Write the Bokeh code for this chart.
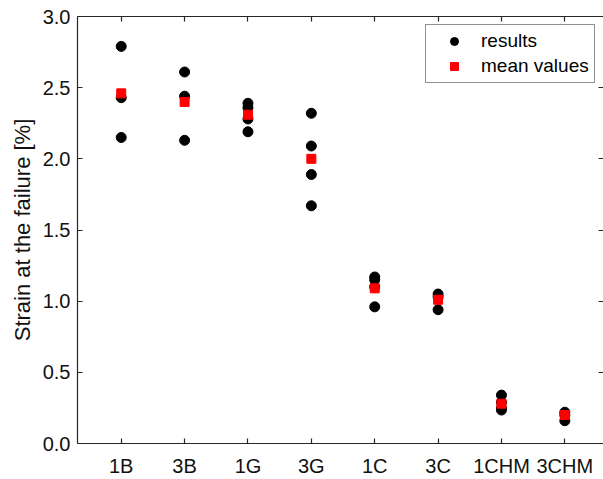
from bokeh.plotting import figure
from bokeh.models import (ColumnDataSource, FixedTicker, PrintfTickFormatter,
                          CustomJSTickFormatter, LinearAxis, Range1d, Legend,
                          LegendItem)
from bokeh.embed import file_html
from bokeh.resources import INLINE

# Specimen groups
categories = ["1B", "3B", "1G", "3G", "1C", "3C", "1CHM", "3CHM"]

# Strain at failure [%] of each tested specimen, per group
results = [
    [2.79, 2.43, 2.15],
    [2.61, 2.44, 2.13],
    [2.39, 2.36, 2.28, 2.19],
    [2.32, 2.09, 1.89, 1.67],
    [1.17, 1.15, 1.10, 0.96],
    [1.05, 1.03, 0.94],
    [0.34, 0.29, 0.25, 0.235],
    [0.22, 0.20, 0.16],
]

# Mean strain at failure [%] per group
means = [2.46, 2.40, 2.31, 2.00, 1.09, 1.01, 0.28, 0.20]

y_ticks = [0.0, 0.5, 1.0, 1.5, 2.0, 2.5, 3.0]

FONT = "Liberation Sans"
INK = "#262626"
TEXT = "#111111"

xs, ys = [], []
for i, vals in enumerate(results, start=1):
    for v in vals:
        xs.append(i)
        ys.append(v)
res_src = ColumnDataSource(dict(x=xs, y=ys))
mean_src = ColumnDataSource(dict(x=list(range(1, len(categories) + 1)), y=means))

p = figure(width=603, height=479,
           x_range=Range1d(0.31, 8.61), y_range=Range1d(0.0, 3.0),
           output_backend="svg", toolbar_location=None,
           min_border_left=77, min_border_right=0,
           min_border_top=16, min_border_bottom=34)
p.outline_line_color = None
p.xgrid.visible = False
p.ygrid.visible = False
p.background_fill_color = "white"
p.border_fill_color = "white"

r_res = p.scatter("x", "y", source=res_src, marker="circle", size=10,
                  fill_color="black", line_color="black")
r_mean = p.scatter("x", "y", source=mean_src, marker="square", size=9,
                   fill_color="#ff0000", line_color="#ff0000")

x_ticker = FixedTicker(ticks=list(range(1, len(categories) + 1)))
y_ticker = FixedTicker(ticks=y_ticks)


def style_axis(ax):
    ax.axis_line_color = INK
    ax.axis_line_width = 1.2
    ax.major_tick_line_color = INK
    ax.major_tick_line_width = 1.2
    ax.major_tick_in = 5
    ax.major_tick_out = 0
    ax.minor_tick_line_color = None
    ax.major_label_text_font = FONT
    ax.major_label_text_color = TEXT
    ax.major_label_text_font_size = "20px"


xa = p.xaxis[0]
xa.ticker = x_ticker
xa.major_label_overrides = {i + 1: c for i, c in enumerate(categories)}
style_axis(xa)
xa.major_label_standoff = 11

ya = p.yaxis[0]
ya.ticker = y_ticker
ya.formatter = PrintfTickFormatter(format="%.1f")
style_axis(ya)
ya.major_label_standoff = 7
ya.axis_label = "Strain at the failure [%]"
ya.axis_label_text_font = FONT
ya.axis_label_text_font_size = "22px"
ya.axis_label_text_font_style = "normal"
ya.axis_label_text_color = TEXT
ya.axis_label_standoff = 5

# Box edges on top and right carry inward ticks only, no labels
blank = CustomJSTickFormatter(code="return '';")

top = LinearAxis(ticker=x_ticker, formatter=blank, major_label_standoff=0)
style_axis(top)
top.major_label_text_font_size = "6px"
p.add_layout(top, "above")

right = LinearAxis(ticker=y_ticker, formatter=blank, major_label_standoff=0)
style_axis(right)
right.major_label_text_font_size = "6px"
right.axis_line_color = None
p.add_layout(right, "right")

legend = Legend(items=[LegendItem(label="results", renderers=[r_res]),
                       LegendItem(label="mean values", renderers=[r_mean])],
                location=(348, 360))
legend.padding = 5
legend.margin = 0
legend.spacing = 3
legend.glyph_width = 46
legend.glyph_height = 20
legend.label_height = 20
legend.label_standoff = 4
legend.label_text_font = FONT
legend.label_text_font_size = "19px"
legend.label_text_color = "black"
legend.border_line_color = INK
legend.border_line_width = 1.2
legend.background_fill_color = "white"
legend.background_fill_alpha = 1.0
p.add_layout(legend, "center")

open("out.html", "w").write(file_html(p, INLINE))
